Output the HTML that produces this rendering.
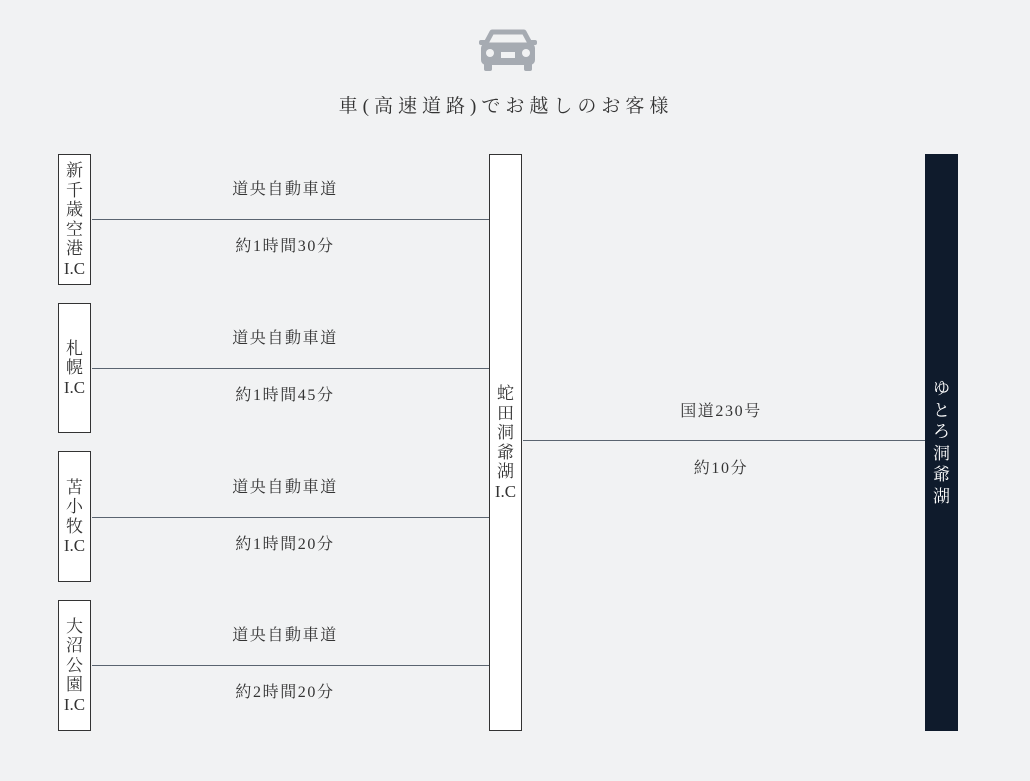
<!DOCTYPE html>
<html><head><meta charset="utf-8"><style>
body{margin:0;width:1030px;height:781px;background:#f1f2f3;position:relative;overflow:hidden;font-family:"Liberation Serif","Noto Serif CJK SC",serif;color:#333}
.b{position:absolute;width:31px;border:1px solid #333;background:#fff;display:flex;align-items:center;justify-content:center;text-align:center;font-size:17px;line-height:19.5px;box-sizing:content-box}
.l{position:absolute;height:1px;background:#5a6470}
.t{position:absolute;width:300px;text-align:center;font-size:16px;letter-spacing:1.6px;line-height:20px}
</style></head><body>
<svg style="position:absolute;left:478px;top:28px" width="60" height="46" viewBox="0 0 60 46">
<g fill="#a6abb2">
<path d="M14 4h32l7 13H7z" fill="none" stroke="#a6abb2" stroke-width="5" stroke-linejoin="round"/>
<rect x="3" y="15" width="54" height="22" rx="5"/>
<rect x="1" y="12" width="8" height="5" rx="2"/><rect x="51" y="12" width="8" height="5" rx="2"/>
<rect x="6" y="34" width="8" height="9" rx="2"/><rect x="46" y="34" width="8" height="9" rx="2"/>
</g>
<circle cx="12" cy="25" r="4" fill="#f1f2f3"/><circle cx="48" cy="25" r="4" fill="#f1f2f3"/>
<rect x="23" y="24" width="14" height="6" fill="#f1f2f3"/>
</svg>
<div style="position:absolute;left:0;width:1012px;top:91px;text-align:center;font-size:19px;letter-spacing:5px;color:#333">車(高速道路)でお越しのお客様</div>

<div class="b" style="left:58px;top:154px;height:129px">新<br>千<br>歳<br>空<br>港<br>I.C</div>
<div class="b" style="left:58px;top:303px;height:128px">札<br>幌<br>I.C</div>
<div class="b" style="left:58px;top:451px;height:129px">苫<br>小<br>牧<br>I.C</div>
<div class="b" style="left:58px;top:600px;height:129px">大<br>沼<br>公<br>園<br>I.C</div>
<div class="b" style="left:489px;top:154px;height:575px">蛇<br>田<br>洞<br>爺<br>湖<br>I.C</div>
<div class="b" style="left:925px;top:154px;height:575px;background:#0f1b2c;border-color:#0f1b2c;color:#fff;line-height:21.5px">ゆ<br>と<br>ろ<br>洞<br>爺<br>湖</div>

<div class="l" style="left:92px;width:397px;top:219px"></div>
<div class="l" style="left:92px;width:397px;top:368px"></div>
<div class="l" style="left:92px;width:397px;top:517px"></div>
<div class="l" style="left:92px;width:397px;top:665px"></div>
<div class="l" style="left:523px;width:402px;top:440px"></div>

<div class="t" style="left:135px;top:180px">道央自動車道</div>
<div class="t" style="left:135px;top:237px">約1時間30分</div>
<div class="t" style="left:135px;top:329px">道央自動車道</div>
<div class="t" style="left:135px;top:386px">約1時間45分</div>
<div class="t" style="left:135px;top:478px">道央自動車道</div>
<div class="t" style="left:135px;top:535px">約1時間20分</div>
<div class="t" style="left:135px;top:626px">道央自動車道</div>
<div class="t" style="left:135px;top:683px">約2時間20分</div>
<div class="t" style="left:571px;top:402px">国道230号</div>
<div class="t" style="left:571px;top:459px">約10分</div>
</body></html>
